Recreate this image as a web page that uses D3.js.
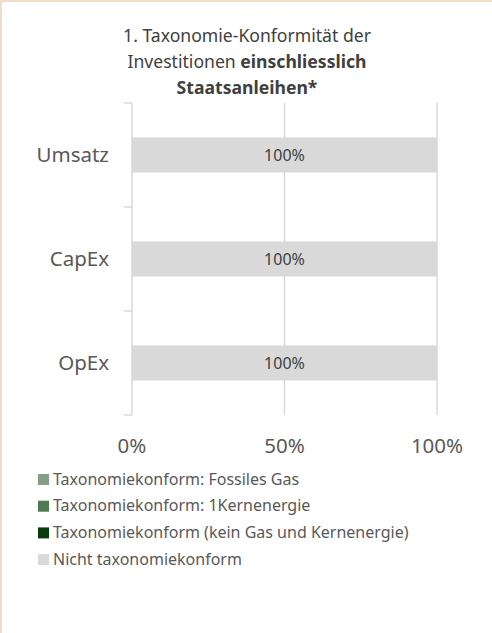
<!DOCTYPE html>
<html>
<head>
<meta charset="utf-8">
<script src="https://cdn.jsdelivr.net/npm/d3@7"></script>
<style>
	body { margin: 0; background: white; overflow: hidden; }
	svg { display: block; font-family: 'Noto Sans', sans-serif; }
</style>
</head>
<body>
<div id="chart"></div>
<script>
var categories = ['Umsatz', 'CapEx', 'OpEx'];
var series = ['Taxonomiekonform: Fossiles Gas', 'Taxonomiekonform: 1Kernenergie', 'Taxonomiekonform (kein Gas und Kernenergie)', 'Nicht taxonomiekonform'];
var gas_values = [0, 0, 0];
var nuclear_values = [0, 0, 0];
var aligned_values = [0, 0, 0];
var not_aligned_values = [100, 100, 100];
var x_ticks = [0, 50, 100];
var title_lines = [
	[{t: '1. Taxonomie-Konformität der', b: false}],
	[{t: 'Investitionen ', b: false}, {t: 'einschliesslich', b: true}],
	[{t: 'Staatsanleihen*', b: true}]
];

var width = 492;
var height = 633;

var svg = d3.select('#chart')
	.append('svg')
		.attr('width', width)
		.attr('height', height);

// frame (only top and left edge visible)
svg.append('path')
	.attr('d', 'M1,' + height + 'V1H' + width)
	.style('fill', 'none')
	.style('stroke', '#f2ddcb')
	.style('stroke-width', 2);

// title
var title = svg.append('text')
	.attr('text-anchor', 'middle')
	.style('font-size', '17.6px')
	.style('fill', '#404040');
title_lines.forEach(function(line, i) {
	var row = title.append('tspan')
		.attr('x', 247)
		.attr('y', 42 + i * 26);
	line.forEach(function(part) {
		row.append('tspan')
			.style('font-weight', part.b ? 'bold' : 'normal')
			.text(part.t);
	});
});

var x = d3.scaleLinear()
	.domain([0, 100])
	.range([132, 437]);

var y = d3.scaleBand()
	.domain(categories)
	.range([103, 415])
	.paddingInner(0.663)
	.paddingOuter(0.3315);

var color = d3.scaleOrdinal()
	.domain(series)
	.range(['#84a084', '#4f7a50', '#0a3a0a', '#d9d9d9']);

// gridlines
svg.append('g')
	.selectAll('line')
	.data(x_ticks.slice(1))
	.enter()
	.append('line')
		.attr('x1', function(d) { return x(d); })
		.attr('x2', function(d) { return x(d); })
		.attr('y1', 103)
		.attr('y2', 415)
		.style('stroke', '#d9d9d9')
		.style('stroke-width', 1.5);

// stacked bars
var table = categories.map(function(c, i) {
	var row = {cat: c};
	row[series[0]] = gas_values[i];
	row[series[1]] = nuclear_values[i];
	row[series[2]] = aligned_values[i];
	row[series[3]] = not_aligned_values[i];
	return row;
});
var stacked = d3.stack().keys(series)(table);

var layers = svg.append('g')
	.selectAll('g')
	.data(stacked)
	.enter()
	.append('g')
		.style('fill', function(d) { return color(d.key); });
layers.selectAll('rect')
	.data(function(d) { return d; })
	.enter()
	.append('rect')
		.attr('x', function(d) { return x(d[0]); })
		.attr('y', function(d) { return y(d.data.cat); })
		.attr('width', function(d) { return x(d[1]) - x(d[0]); })
		.attr('height', y.bandwidth());
layers.selectAll('text')
	.data(function(d) { return d.filter(function(p) { return p[1] - p[0] > 0; }); })
	.enter()
	.append('text')
		.attr('x', function(d) { return (x(d[0]) + x(d[1])) / 2; })
		.attr('y', function(d) { return y(d.data.cat) + y.bandwidth() / 2; })
		.attr('dy', '0.35em')
		.attr('text-anchor', 'middle')
		.style('fill', '#404040')
		.style('font-size', '16px')
		.text(function(d) { return (d[1] - d[0]) + '%'; });

// y axis
var y_axis = svg.append('g')
	.attr('transform', 'translate(132,0)');
y_axis.append('line')
	.attr('y1', 103)
	.attr('y2', 415)
	.style('stroke', '#d9d9d9')
	.style('stroke-width', 1.5);
y_axis.selectAll('.tick')
	.data(d3.range(categories.length + 1))
	.enter()
	.append('line')
		.attr('x1', -8)
		.attr('x2', 0)
		.attr('y1', function(i) { return 103 + i * y.step(); })
		.attr('y2', function(i) { return 103 + i * y.step(); })
		.style('stroke', '#d9d9d9')
		.style('stroke-width', 1.5);
y_axis.selectAll('.label')
	.data(categories)
	.enter()
	.append('text')
		.attr('x', -23)
		.attr('y', function(d) { return y(d) + y.bandwidth() / 2; })
		.attr('dy', '0.35em')
		.attr('text-anchor', 'end')
		.style('fill', '#595959')
		.style('font-size', '20.5px')
		.text(function(d) { return d; });

// x tick labels
svg.append('g')
	.selectAll('text')
	.data(x_ticks)
	.enter()
	.append('text')
		.attr('x', function(d) { return x(d); })
		.attr('y', 453)
		.attr('text-anchor', 'middle')
		.style('fill', '#595959')
		.style('font-size', '20.5px')
		.text(function(d) { return d + '%'; });

// legend
var legend = svg.append('g')
	.selectAll('g')
	.data(series)
	.enter()
	.append('g')
		.attr('transform', function(d, i) { return 'translate(38,' + (479 + i * 26.7) + ')'; });
legend.append('rect')
	.attr('x', 0)
	.attr('y', -5)
	.attr('width', 11)
	.attr('height', 11)
	.style('fill', function(d) { return color(d); });
legend.append('text')
	.attr('x', 15)
	.attr('y', 0)
	.attr('dy', '0.35em')
	.style('fill', '#595959')
	.style('font-size', '16px')
	.text(function(d) { return d; });
</script>
</body>
</html>
